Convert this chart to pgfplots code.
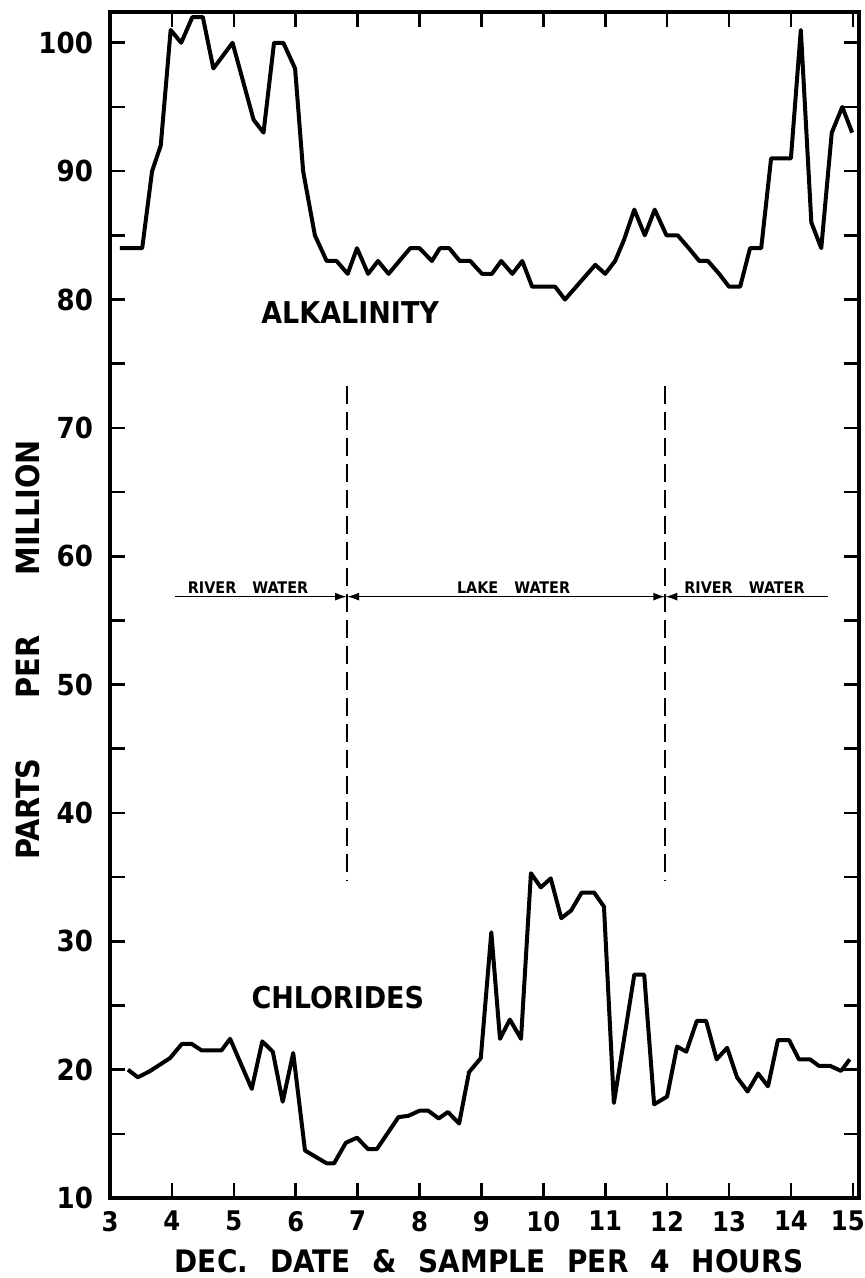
\documentclass[border=0pt]{standalone}
\usepackage{fontspec}
\setmainfont{DejaVu Sans Condensed}
\usepackage{pgfplots}
\pgfplotsset{compat=1.18}
\usetikzlibrary{arrows.meta}
\begin{document}
\begin{tikzpicture}
\useasboundingbox (-55pt,-40pt) rectangle (377pt,599pt);
\begin{axis}[
  at={(0,0)}, anchor=south west,
  scale only axis, width=374.5pt, height=593pt,
  xmin=3, xmax=15.1, ymin=10, ymax=102.4,
  xtick={3,...,15}, ytick={10,20,...,100}, minor ytick={15,25,...,95},
  xticklabels={3,4,5,6,7,8,9,10,11,12,13,14,\hspace{-5pt}15},
  xtick pos=both, ytick pos=both, tick align=inside,
  major tick length=7.5pt, minor tick length=7.5pt,
  every tick/.style={black, line width=1.3pt},
  axis line style={line width=1.6pt},
  /pgf/number format/assume math mode=true,
  ticklabel style={font=\bfseries\fontsize{14.5}{17}\selectfont},
  xticklabel style={yshift=-3pt, font=\bfseries\fontsize{13.5}{16}\selectfont},
  yticklabel style={xshift=-5pt},
  xlabel={DEC.\hspace{11pt}DATE\hspace{11pt}\&\hspace{11pt}SAMPLE\hspace{11pt}PER\hspace{11pt}4\hspace{11pt}HOURS},
  ylabel={PARTS\hspace{30pt}PER\hspace{30pt}MILLION},
  xlabel style={at={(axis description cs:0.506,-0.053)}, anchor=center, font=\bfseries\fontsize{15.5}{18}\selectfont},
  ylabel style={at={(axis description cs:-0.1095,0.462)}, anchor=center, font=\bfseries\fontsize{16}{19}\selectfont},
  clip=false,
]
\addplot[black, line width=2pt, line join=round] coordinates {
(3.16,84) (3.52,84) (3.68,90) (3.82,92) (3.98,101) (4.15,100) (4.33,102) (4.5,102) (4.67,98) (4.98,100) (5.32,94) (5.48,93) (5.65,100) (5.8,100) (5.99,98) (6.12,90) (6.31,85) (6.5,83) (6.66,83) (6.84,82) (6.99,84) (7.17,82) (7.33,83) (7.5,82) (7.85,84) (8.0,84) (8.2,83) (8.33,84) (8.48,84) (8.65,83) (8.82,83) (9.01,82) (9.17,82) (9.32,83) (9.5,82) (9.66,83) (9.82,81) (10.19,81) (10.35,80) (10.84,82.7) (11.0,82) (11.16,83) (11.3,84.6) (11.47,87) (11.64,85) (11.8,87) (11.99,85) (12.17,85) (12.35,84) (12.52,83) (12.66,83) (12.84,82) (13.0,81) (13.18,81) (13.34,84) (13.52,84) (13.68,91) (14.0,91) (14.16,101) (14.33,86) (14.49,84) (14.66,93) (14.83,95) (14.99,93)
};
\addplot[black, line width=2pt, line join=round] coordinates {
(3.29,20) (3.45,19.4) (3.65,19.9) (3.97,20.9) (4.16,22) (4.32,22) (4.48,21.5) (4.8,21.5) (4.94,22.4) (5.29,18.5) (5.46,22.2) (5.63,21.4) (5.79,17.5) (5.96,21.3) (6.15,13.7) (6.5,12.7) (6.62,12.7) (6.81,14.3) (6.99,14.7) (7.17,13.8) (7.31,13.8) (7.66,16.3) (7.82,16.4) (8.0,16.8) (8.14,16.8) (8.31,16.2) (8.46,16.7) (8.64,15.8) (8.8,19.8) (8.99,20.9) (9.16,30.7) (9.3,22.4) (9.46,23.9) (9.64,22.4) (9.8,35.3) (9.96,34.2) (10.12,34.9) (10.29,31.8) (10.45,32.4) (10.62,33.8) (10.82,33.8) (10.98,32.7) (11.14,17.4) (11.47,27.4) (11.63,27.4) (11.79,17.3) (12.0,17.9) (12.16,21.8) (12.31,21.4) (12.48,23.8) (12.63,23.8) (12.8,20.8) (12.97,21.7) (13.13,19.4) (13.3,18.3) (13.47,19.7) (13.63,18.7) (13.79,22.3) (13.97,22.3) (14.13,20.8) (14.31,20.8) (14.45,20.3) (14.63,20.3) (14.81,19.9) (14.95,20.8)
};
% boundaries between river and lake water
\addplot[black, line width=1pt, dash pattern=on 9pt off 4pt] coordinates {(6.83,73.3) (6.83,34.7)};
\addplot[black, line width=1pt, dash pattern=on 9pt off 4pt] coordinates {(11.97,73.3) (11.97,34.7)};
\addplot[black, line width=0.8pt, -{Latex[length=6pt,width=4pt]}] coordinates {(4.05,56.85) (6.83,56.85)};
\addplot[black, line width=0.8pt, {Latex[length=6pt,width=4pt]}-{Latex[length=6pt,width=4pt]}] coordinates {(6.83,56.85) (11.97,56.85)};
\addplot[black, line width=0.8pt, {Latex[length=6pt,width=4pt]}-] coordinates {(11.97,56.85) (14.6,56.85)};
\node[font=\bfseries\fontsize{8}{9}\selectfont, anchor=south, inner sep=1.5pt] at (axis cs:5.23,56.85) {RIVER\hspace{8pt}WATER};
\node[font=\bfseries\fontsize{8}{9}\selectfont, anchor=south, inner sep=1.5pt] at (axis cs:9.52,56.85) {LAKE\hspace{8pt}WATER};
\node[font=\bfseries\fontsize{8}{9}\selectfont, anchor=south, inner sep=1.5pt] at (axis cs:13.25,56.85) {RIVER\hspace{8pt}WATER};
\node[font=\bfseries\fontsize{15}{18}\selectfont] at (axis cs:6.88,79.0) {ALKALINITY};
\node[font=\bfseries\fontsize{15}{18}\selectfont] at (axis cs:6.68,25.6) {CHLORIDES};
\end{axis}
\end{tikzpicture}
\end{document}
